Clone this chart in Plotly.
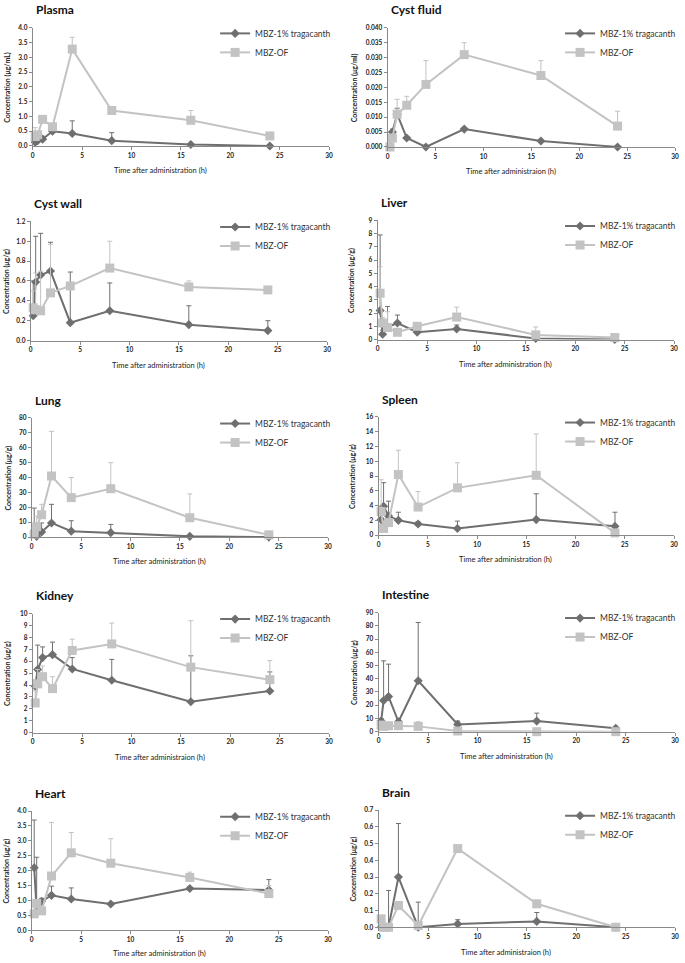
import plotly.graph_objects as go

W, H = 685, 963

# sampling times (h)
hours = [0.25, 0.5, 1, 2, 4, 8, 16, 24]

# mean concentrations and upper error bars (SD) per tissue
plasma_trag = [0.13, 0.18, 0.23, 0.50, 0.42, 0.18, 0.05, 0.0]
plasma_trag_err = [0.05, 0.10, 0.10, 0.03, 0.43, 0.27, 0.03, 0.0]
plasma_of = [0.32, 0.38, 0.90, 0.65, 3.28, 1.20, 0.87, 0.34]
plasma_of_err = [0.30, 0.10, 0.05, 0.05, 0.40, 0.05, 0.33, 0.08]

fluid_trag = [0.0, 0.005, 0.011, 0.003, 0.0, 0.006, 0.002, 0.0]
fluid_trag_err = [0.0, 0.001, 0.002, 0.0005, 0.0, 0.0005, 0.0003, 0.0]
fluid_of = [0.0, 0.003, 0.011, 0.014, 0.021, 0.031, 0.024, 0.007]
fluid_of_err = [0.0, 0.001, 0.005, 0.003, 0.008, 0.004, 0.005, 0.005]

wall_trag = [0.25, 0.59, 0.66, 0.70, 0.18, 0.30, 0.16, 0.10]
wall_trag_err = [0.35, 0.46, 0.42, 0.29, 0.51, 0.28, 0.19, 0.10]
wall_of = [0.33, 0.31, 0.30, 0.48, 0.55, 0.73, 0.54, 0.51]
wall_of_err = [0.17, 0.37, 0.40, 0.49, 0.0, 0.27, 0.06, 0.02]

liver_trag = [2.2, 0.4, 0.95, 1.25, 0.55, 0.80, 0.08, 0.0]
liver_trag_err = [5.7, 0.3, 1.55, 0.6, 0.1, 0.3, 0.05, 0.0]
liver_of = [3.5, 1.25, 0.90, 0.55, 1.0, 1.7, 0.35, 0.15]
liver_of_err = [2.0, 0.4, 1.2, 0.2, 0.25, 0.75, 0.6, 0.05]

lung_trag = [2, 0.5, 3.5, 9.5, 4, 3, 0.5, 0]
lung_trag_err = [17.5, 2, 6, 12.5, 7, 5.5, 0.5, 0]
lung_of = [2, 7, 15, 41, 26.5, 32.5, 13, 1.5]
lung_of_err = [5, 7, 7, 30, 13.5, 17.5, 16, 0.5]

spleen_trag = [2.1, 3.9, 2.6, 2.0, 1.5, 0.9, 2.1, 1.2]
spleen_trag_err = [1.0, 3.2, 2.0, 1.1, 0.3, 1.0, 3.5, 1.9]
spleen_of = [3.2, 0.9, 1.7, 8.2, 3.8, 6.4, 8.1, 0.3]
spleen_of_err = [4.3, 1.0, 0.5, 3.3, 2.1, 3.4, 5.6, 0.1]

kidney_trag = [3.9, 5.3, 6.3, 6.55, 5.35, 4.4, 2.6, 3.5]
kidney_trag_err = [0.5, 2.05, 0.9, 1.05, 0.95, 1.75, 3.85, 1.6]
kidney_of = [2.5, 4.1, 4.7, 3.7, 6.9, 7.45, 5.5, 4.45]
kidney_of_err = [1.0, 1.2, 0.9, 1.0, 0.95, 1.75, 3.9, 1.6]

intestine_trag = [8, 23.5, 26.5, 7.5, 38.5, 5.5, 8, 2.5]
intestine_trag_err = [2, 30, 24.5, 2, 44, 2.5, 6, 1]
intestine_of = [5, 4, 4.5, 4.5, 4, 0.5, 0, 0]
intestine_of_err = [2, 1, 1, 1, 3.5, 1, 0, 0]

heart_trag = [2.1, 0.65, 0.97, 1.17, 1.05, 0.88, 1.4, 1.35]
heart_trag_err = [1.6, 1.8, 0.1, 0.31, 0.37, 0.05, 0.05, 0.35]
heart_of = [0.55, 0.9, 0.65, 1.82, 2.6, 2.25, 1.77, 1.23]
heart_of_err = [0.3, 0.1, 0.1, 1.8, 0.68, 0.82, 0.18, 0.27]

brain_trag = [0, 0, 0, 0.3, 0.0, 0.02, 0.035, 0]
brain_trag_err = [0, 0, 0.22, 0.32, 0.15, 0.025, 0.053, 0]
brain_of = [0.05, 0, 0, 0.13, 0.01, 0.47, 0.14, 0]
brain_of_err = [0, 0, 0, 0.02, 0, 0, 0, 0]

series_names = ["MBZ-1% tragacanth", "MBZ-OF"]

XT1 = "Time after administration (h)"
XT2 = "Time after administraion (h)"
UG = "Concentration (μg/g)"

# title, data, y label, x label, y max, y step, tick format
panels = [
    ("Plasma", (plasma_trag, plasma_trag_err, plasma_of, plasma_of_err), "Concentration (μg/mL)", XT1, 4.0, 0.5, ".1f"),
    ("Cyst fluid", (fluid_trag, fluid_trag_err, fluid_of, fluid_of_err), "Concentration (μg/ml)", XT2, 0.04, 0.005, ".3f"),
    ("Cyst wall", (wall_trag, wall_trag_err, wall_of, wall_of_err), UG, XT1, 1.2, 0.2, ".1f"),
    ("Liver", (liver_trag, liver_trag_err, liver_of, liver_of_err), UG, XT1, 9, 1, "d"),
    ("Lung", (lung_trag, lung_trag_err, lung_of, lung_of_err), UG, XT1, 80, 10, "d"),
    ("Spleen", (spleen_trag, spleen_trag_err, spleen_of, spleen_of_err), UG, XT1, 16, 2, "d"),
    ("Kidney", (kidney_trag, kidney_trag_err, kidney_of, kidney_of_err), UG, XT2, 10, 1, "d"),
    ("Intestine", (intestine_trag, intestine_trag_err, intestine_of, intestine_of_err), UG, XT1, 90, 10, "d"),
    ("Heart", (heart_trag, heart_trag_err, heart_of, heart_of_err), UG, XT1, 4.0, 0.5, ".1f"),
    ("Brain", (brain_trag, brain_trag_err, brain_of, brain_of_err), UG, XT2, 0.7, 0.1, ".1f"),
]

# plot boxes in pixels: left, right, top, bottom, y-title offset
boxes = [
    (31, 330, 24, 143, 25), (389, 679, 24, 144, 34),
    (29, 328, 219, 339, 24), (379, 678, 218, 338, 26),
    (30, 329, 417, 537, 23), (380, 678, 416, 535, 27),
    (31, 330, 614, 734, 26), (380, 679, 613, 733, 25),
    (30, 329, 813, 933, 25), (380, 679, 812, 930, 25),
]


def fx(px):
    return px / W


def fy(py):
    return 1 - py / H


DARK = "#6f6f6f"
LIGHT = "#c3c3c3"
AXIS = "#8a8a8a"
FONT = "Lato"

fig = go.Figure()
annotations = []

for i, ((title, (t, te, o, oe), ylab, xlab, ymax, dy, fmt), (x0, x1, y0, y1, yoff)) in enumerate(zip(panels, boxes)):
    n = "" if i == 0 else str(i + 1)
    leg = "legend" + n
    zeros = [0] * len(hours)

    fig.add_trace(go.Scatter(
        x=hours, y=t, name=series_names[0], mode="lines+markers",
        line=dict(color=DARK, width=2),
        marker=dict(symbol="diamond", size=7, color=DARK),
        error_y=dict(type="data", array=te, arrayminus=zeros, symmetric=False,
                     color=DARK, thickness=1, width=2.5),
        xaxis="x" + n, yaxis="y" + n, legend=leg, cliponaxis=False,
    ))
    fig.add_trace(go.Scatter(
        x=hours, y=o, name=series_names[1], mode="lines+markers",
        line=dict(color=LIGHT, width=2),
        marker=dict(symbol="square", size=9, color=LIGHT),
        error_y=dict(type="data", array=oe, arrayminus=zeros, symmetric=False,
                     color=LIGHT, thickness=1, width=2.5),
        xaxis="x" + n, yaxis="y" + n, legend=leg, cliponaxis=False,
    ))

    axis_style = dict(showline=True, linecolor=AXIS, linewidth=1, ticks="outside",
                      ticklen=3, tickcolor=AXIS, showgrid=False, zeroline=False,
                      ticklabeloverflow="allow",
                      tickfont=dict(size=6.5, color="#222222", family=FONT, weight="bold"))
    text_start = 256 if i % 2 == 0 else 604
    fig.update_layout(**{
        "xaxis" + n: dict(domain=[fx(x0), fx(x1)], anchor="y" + n, range=[0, 30], dtick=5, **axis_style),
        "yaxis" + n: dict(domain=[fy(y1), fy(y0)], anchor="x" + n, range=[0, ymax], dtick=dy,
                          tickformat=fmt, **axis_style),
        leg: dict(x=fx(text_start - 41), y=fy(y0 - 9), xanchor="left", yanchor="top",
                  bgcolor="rgba(0,0,0,0)", font=dict(size=8.5, color="#333333", family=FONT),
                  tracegroupgap=0),
    })

    annotations.append(dict(text="<b>" + title + "</b>", x=fx(x0 + 1), y=fy(y0 - 18),
                            xref="paper", yref="paper", xanchor="left", yanchor="middle",
                            showarrow=False, font=dict(size=12, color="#111111", family=FONT)))
    annotations.append(dict(text="<b>" + ylab + "</b>", x=fx(x0 - yoff), y=fy((y0 + y1) / 2),
                            xref="paper", yref="paper", xanchor="center", yanchor="middle",
                            textangle=-90, showarrow=False,
                            font=dict(size=7, color="#222222", family=FONT)))
    annotations.append(dict(text=xlab, x=fx(x0 + 0.43 * (x1 - x0)), y=fy(min(y1 + 25, 956)),
                            xref="paper", yref="paper", xanchor="center", yanchor="middle",
                            showarrow=False, font=dict(size=7.5, color="#222222", family=FONT)))

fig.update_layout(
    width=W, height=H,
    margin=dict(l=0, r=0, t=0, b=0),
    paper_bgcolor="white",
    plot_bgcolor="white",
    annotations=annotations,
    font=dict(family=FONT),
)

# drop the default page margin so the figure sits at the window corner
fig.write_html("out.html", config={"displayModeBar": False},
               post_script="document.body.style.margin = '0px';")
